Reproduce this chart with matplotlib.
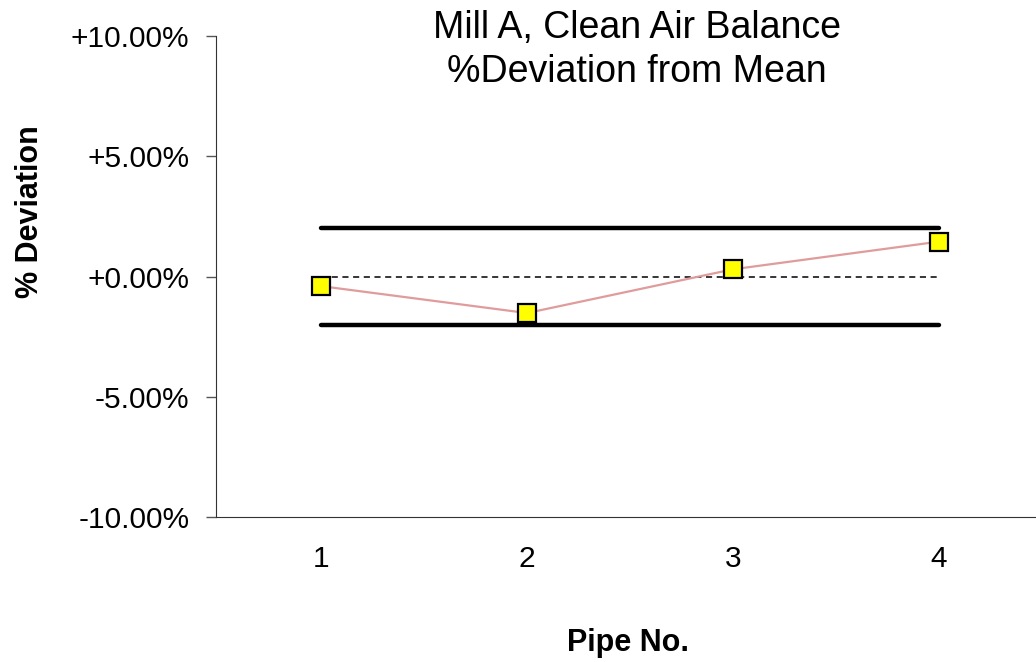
import matplotlib
matplotlib.use("Agg")
import matplotlib.pyplot as plt
from matplotlib.ticker import FuncFormatter

plt.rcParams['font.family'] = ['Liberation Sans', 'DejaVu Sans']

pipes = [1, 2, 3, 4]
deviation = [-0.40, -1.52, 0.30, 1.45]
upper_limit = [2.0, 2.0, 2.0, 2.0]
lower_limit = [-2.0, -2.0, -2.0, -2.0]
mean_line = [0.0, 0.0, 0.0, 0.0]
yticks = [-10, -5, 0, 5, 10]

W, H = 1036, 662
fig = plt.figure(figsize=(W / 100, H / 100), dpi=100)
# axes in pixel coords: left 216, right ~1044, top 36, bottom 517
ax = fig.add_axes([216 / W, (H - 517) / H, (1044 - 216) / W, (517 - 36) / H])

ax.plot(pipes, upper_limit, color='black', lw=3.2, solid_capstyle='round')
ax.plot(pipes, lower_limit, color='black', lw=3.2, solid_capstyle='round')
ax.plot(pipes, mean_line, color='black', lw=1.1, ls=(0, (4, 3)))
ax.plot(pipes, deviation, color='#e09c9c', lw=1.6, marker='s', ms=12.5,
        mfc='#ffff00', mec='black', mew=1.6, zorder=5)

ax.set_xlim(0.49, 4.51)
ax.set_ylim(-10, 10)
ax.set_yticks(yticks)
ax.yaxis.set_major_formatter(FuncFormatter(lambda v, p: '%+.2f%%' % v))
ax.set_xticks(pipes)
ax.tick_params(axis='y', direction='out', length=7, width=1, labelsize=21.5, pad=12, color='#555555')
ax.tick_params(axis='x', length=0, labelsize=21.5, pad=20)

for s in ['top', 'right']:
    ax.spines[s].set_visible(False)
ax.spines['left'].set_color('#333333')
ax.spines['bottom'].set_color('#333333')

fig.text(637 / W, 1 - 28 / H, 'Mill A, Clean Air Balance', ha='center', va='center', fontsize=27)
fig.text(637 / W, 1 - 72 / H, '%Deviation from Mean', ha='center', va='center', fontsize=27)
fig.text(628 / W, 1 - 643 / H, 'Pipe No.', ha='center', va='center', fontsize=22, fontweight='bold')
fig.text(30 / W, 1 - 212 / H, '% Deviation', ha='center', va='center', fontsize=22,
         fontweight='bold', rotation=90)

fig.savefig('out.png', dpi=100)
